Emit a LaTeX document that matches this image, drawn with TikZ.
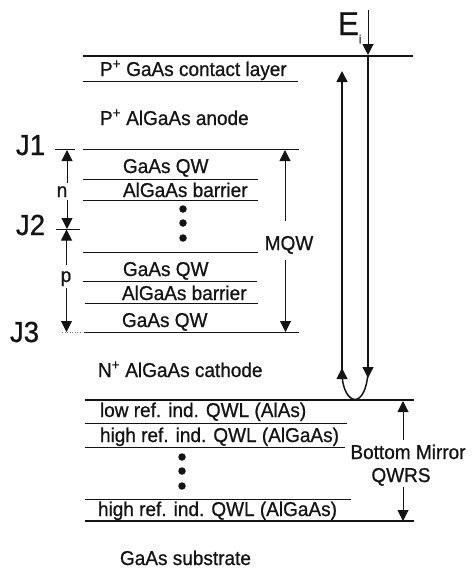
\documentclass[tikz,border=0pt]{standalone}
\usepackage{fontspec}
\setmainfont[FakeBold=0.8,FakeStretch=0.95]{Liberation Sans}
\usetikzlibrary{arrows.meta}
\definecolor{ink}{gray}{0.08}
\tikzset{
  x=1pt,y=-1pt,
  lab/.style={anchor=base west,inner sep=0pt,outer sep=0pt,text=ink,font=\fontsize{20}{22}\selectfont},
  big/.style={anchor=base west,inner sep=0pt,outer sep=0pt,text=ink,font=\fontsize{29}{32}\selectfont},
  bigger/.style={anchor=base west,inner sep=0pt,outer sep=0pt,text=ink,font=\fontsize{33}{36}\selectfont},
  mid/.style={anchor=base,inner sep=0pt,outer sep=0pt,text=ink,font=\fontsize{20}{22}\selectfont},
  layer/.style={draw=ink,line width=0.7pt},
  faint/.style={draw=ink!60,line width=0.5pt,dotted},
  heavy/.style={draw=ink,line width=1.4pt},
  arr/.style={draw=ink,line width=1pt,-{Triangle[length=11pt,width=11pt]}},
  beam/.style={draw=ink,line width=1.5pt},
  dotm/.style={circle,fill=ink,inner sep=0pt,minimum size=7.5pt}
}
\begin{document}
\begin{tikzpicture}
\useasboundingbox (0,0) rectangle (472,584);
% layer ends
\foreach \n/\xa/\xb/\y in {top/83/413/56,con/83/298/81,ja/83/299/149.5,jal/55/75/149.5,qa/83/258/179,qb/83/258/200,qc/83/258/252,jb/56/80/229,qd/83/257/281.5,qe/85/258/303,jc/84/299/332,jcl/62/82/332,m1/85/414/400,m2/85/347/423,m3/85/345/447,m4/85/351/499,m5/85/414/521}{
  \coordinate (\n L) at (\xa,\y);
  \coordinate (\n R) at (\xb,\y);
}
\draw[heavy] (topL) -- (topR);
\draw[heavy] (m1L) -- (m1R);
\draw[heavy] (m5L) -- (m5R);
\foreach \n in {con,ja,jal,qa,qb,qc,jb,qd,qe,jc,m2,m3,m4}{\draw[layer] (\n L) -- (\n R);}
\draw[faint] (jclL) -- (jclR);
% texts
\node[lab] (t1) at (100,76) {P\textsuperscript{+} GaAs contact layer};
\node[lab] (t2) at (100,125) {P\textsuperscript{+} AlGaAs anode};
\node[lab] (t3) at (123,173) {GaAs QW};
\node[lab] (t4) at (123,197) {AlGaAs barrier};
\node[lab] (t5) at (123,276) {GaAs QW};
\node[lab] (t6) at (122,300) {AlGaAs barrier};
\node[lab] (t7) at (122,327) {GaAs QW};
\node[lab] (t8) at (98,377) {N\textsuperscript{+} AlGaAs cathode};
\node[lab] (t9) at (100,417) {low ref. ind. QWL (AlAs)};
\node[lab] (t10) at (100,442) {high ref. ind. QWL (AlGaAs)};
\node[lab] (t11) at (98,516) {high ref. ind. QWL (AlGaAs)};
\node[lab] (t12) at (120,565) {GaAs substrate};
\node[big] (j1) at (16,155) {J1};
\node[big] (j2) at (16,235) {J2};
\node[big] (j3) at (10,342) {J3};
\node[bigger] (ei) at (338,35) {E\raisebox{-0.25em}{\fontsize{12}{14}\selectfont i}};
\node[mid] (nn) at (62,197) {n};
\node[mid] (pp) at (66,282) {p};
\node[mid] (mqw) at (289,250) {MQW};
\node[mid] (bm) at (408,459) {Bottom Mirror};
\node[mid] (qw) at (401,482) {QWRS};
% dots
\foreach \n/\x/\y in {d1/183/209,d2/183/223,d3/183/238,d4/182/457,d5/182/471,d6/182/486}{\node[dotm] (\n) at (\x,\y) {};}
% J arrows
\coordinate (a1) at (67,150);
\coordinate (a2) at (67,183);
\coordinate (a3) at (67,200);
\coordinate (a4) at (67,229);
\coordinate (a5) at (66.5,229.5);
\coordinate (a6) at (66.5,265);
\coordinate (a7) at (66.5,288);
\coordinate (a8) at (66.5,332);
\draw[arr] (a2) -- (a1);
\draw[arr] (a3) -- (a4);
\draw[arr] (a6) -- (a5);
\draw[arr] (a7) -- (a8);
% MQW
\coordinate (b1) at (285,150);
\coordinate (b2) at (285,221);
\coordinate (b3) at (285.5,260);
\coordinate (b4) at (285.5,332);
\draw[arr] (b2) -- (b1);
\draw[arr] (b3) -- (b4);
% Mirror
\coordinate (c1) at (403,401);
\coordinate (c2) at (403,440);
\coordinate (c3) at (403,487);
\coordinate (c4) at (403,521);
\draw[arr] (c2) -- (c1);
\draw[arr] (c3) -- (c4);
% beam
\coordinate (e0) at (368,10);
\coordinate (e1) at (368,55);
\coordinate (e2) at (368,378);
\coordinate (e3) at (368,372);
\coordinate (e4) at (342,372);
\coordinate (e5) at (342,368);
\coordinate (e6) at (342,71);
\draw[arr] (e0) -- (e1);
\draw[arr,line width=1.3pt] (e1) -- (e2);
\draw[arr,line width=1.5pt] (e4) -- (e6);
\draw[beam] (e3) .. controls (367,390) and (361,399.5) .. (355,399.5) .. controls (349,399.5) and (342,390) .. (e4);
\draw[arr] (342,380) -- (e5);
\end{tikzpicture}
\end{document}
